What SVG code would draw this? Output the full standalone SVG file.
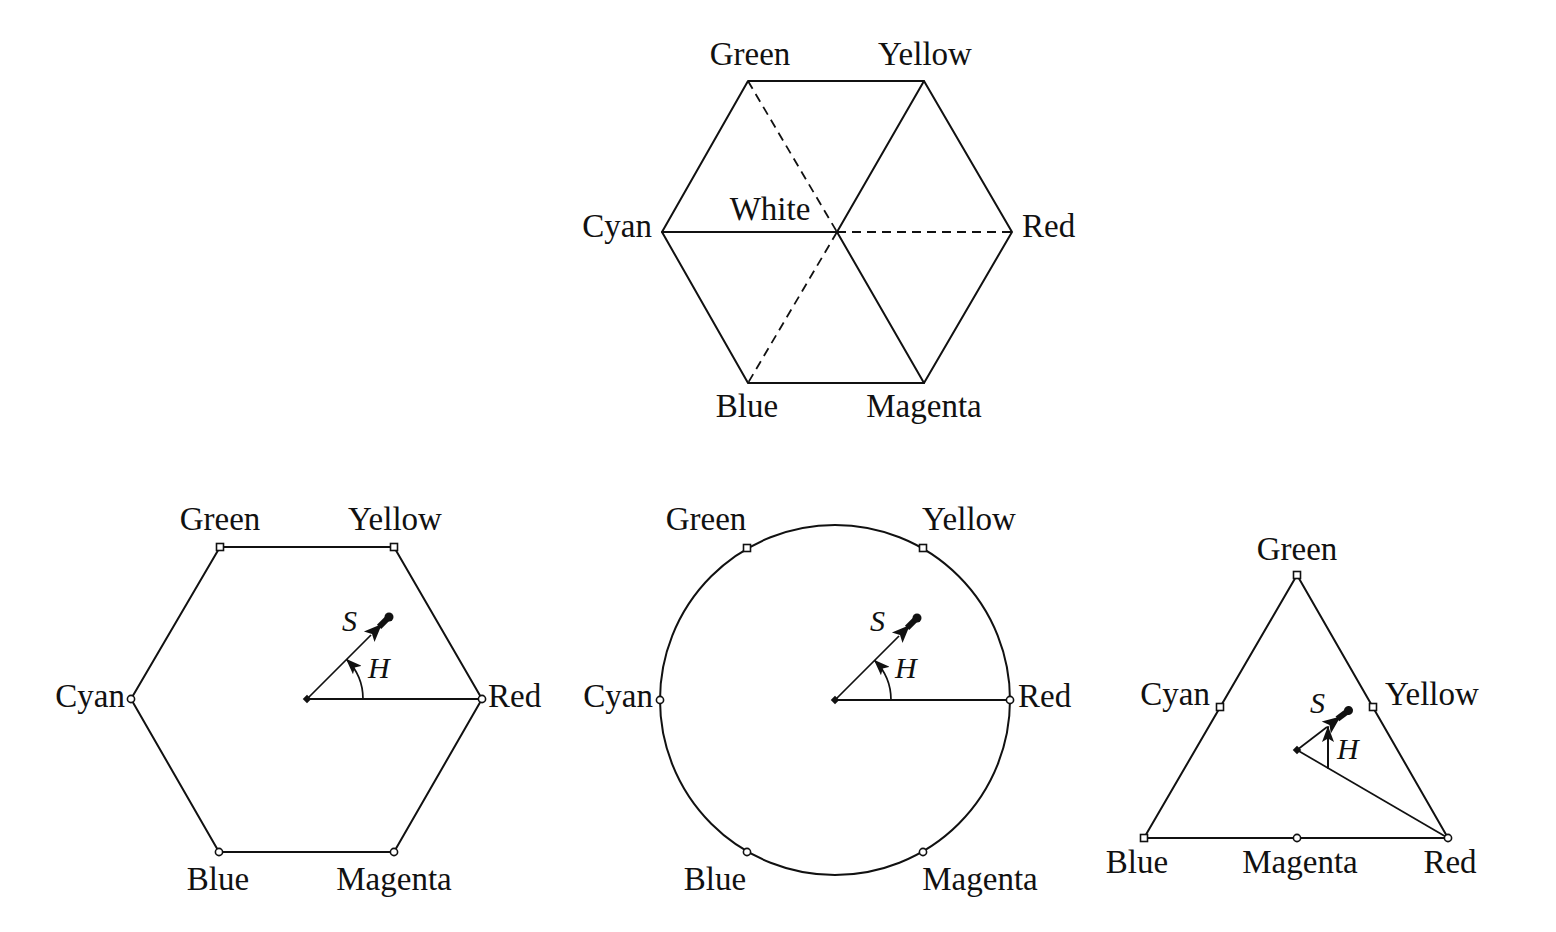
<svg xmlns="http://www.w3.org/2000/svg" width="1556" height="932" viewBox="0 0 1556 932">
<style>
.lbl{font-family:"Liberation Serif","Times New Roman",serif;font-size:33px;fill:#111}
.it{font-family:"Liberation Serif","Times New Roman",serif;font-size:30px;font-style:italic;fill:#111}
.m{text-anchor:middle}.e{text-anchor:end}
.ln{stroke:#111;stroke-width:2;fill:none;stroke-linecap:round;stroke-linejoin:round}
.th{stroke:#111;stroke-width:1.7;fill:none}
.ds{stroke:#111;stroke-width:1.8;fill:none;stroke-dasharray:9 6}
.vx{fill:#fff;stroke:#111;stroke-width:1.6}
</style>
<defs>
<rect id="sq" x="-3.5" y="-3.5" width="7" height="7" class="vx"/>
<circle id="ci" r="3.6" class="vx"/>
<rect id="dot" x="-3" y="-3" width="6" height="6" fill="#111" transform="rotate(45)"/>
<g id="sArr" fill="#111" stroke="none">
<polygon points="0,-7.5 18,0 0,7.5 4,0"/>
<line x1="14" y1="0" x2="27" y2="0" stroke="#111" stroke-width="6"/>
<circle cx="28" cy="0" r="4.5"/>
</g>
<marker id="hA" viewBox="0 0 16 12" refX="15" refY="6" markerWidth="16" markerHeight="12" markerUnits="userSpaceOnUse" orient="auto">
<path d="M0,0 L16,6 L0,12 L3.5,6 z" fill="#111"/>
</marker>
</defs>

<g id="top-hexagon">
<polygon class="ln" points="748,81 924,81 1012,232 924,383 748,383 662,232"/>
<g id="top-connectors">
<line class="ln" x1="662" y1="232" x2="837" y2="232"/>
<line class="ln" x1="924" y1="81" x2="837" y2="232"/>
<line class="ln" x1="837" y1="232" x2="924" y2="383"/>
<line class="ds" x1="748" y1="81" x2="837" y2="232"/>
<line class="ds" x1="837" y1="232" x2="1012" y2="232"/>
<line class="ds" x1="837" y1="232" x2="748" y2="383"/>
</g>
<text class="lbl m" x="750" y="65">Green</text>
<text class="lbl m" x="925" y="65">Yellow</text>
<text class="lbl e" x="652" y="237">Cyan</text>
<text class="lbl" x="1022" y="237">Red</text>
<text class="lbl m" x="770" y="220">White</text>
<text class="lbl m" x="747" y="417">Blue</text>
<text class="lbl m" x="924" y="417">Magenta</text>
</g>

<g id="hexagon">
<polygon class="ln" points="220,547 394,547 482,699 394,852 219,852 131,699"/>
<g id="hex-connectors">
<line class="ln" x1="307" y1="699" x2="482" y2="699"/>
<line class="th" x1="307" y1="699" x2="371" y2="635"/>
<path class="th" d="M363,699 A56,56 0 0 0 346.6,659.4" marker-end="url(#hA)"/>
<use href="#sArr" transform="translate(369.2,636.8) rotate(-45)"/>
</g>
<use href="#sq" x="220" y="547"/><use href="#sq" x="394" y="547"/>
<use href="#ci" x="131" y="699"/><use href="#ci" x="482" y="699"/>
<use href="#ci" x="219" y="852"/><use href="#ci" x="394" y="852"/>
<use href="#dot" transform="translate(307,699)"/>
<text class="lbl m" x="220" y="530">Green</text>
<text class="lbl m" x="395" y="530">Yellow</text>
<text class="lbl e" x="125" y="707">Cyan</text>
<text class="lbl" x="488" y="707">Red</text>
<text class="lbl m" x="218" y="890">Blue</text>
<text class="lbl m" x="394" y="890">Magenta</text>
<text class="it" x="342" y="631">S</text>
<text class="it" x="368" y="678">H</text>
</g>

<g id="circle">
<circle class="ln" cx="835" cy="700" r="175"/>
<g id="circle-connectors">
<line class="ln" x1="835" y1="700" x2="1010" y2="700"/>
<line class="th" x1="835" y1="700" x2="899" y2="636"/>
<path class="th" d="M891,700 A56,56 0 0 0 874.6,660.4" marker-end="url(#hA)"/>
<use href="#sArr" transform="translate(897.2,637.8) rotate(-45)"/>
</g>
<use href="#sq" x="747" y="548"/><use href="#sq" x="923" y="548"/>
<use href="#ci" x="660" y="700"/><use href="#ci" x="1010" y="700"/>
<use href="#ci" x="747" y="852"/><use href="#ci" x="923" y="852"/>
<use href="#dot" transform="translate(835,700)"/>
<text class="lbl m" x="706" y="530">Green</text>
<text class="lbl m" x="969" y="530">Yellow</text>
<text class="lbl e" x="653" y="707">Cyan</text>
<text class="lbl" x="1018" y="707">Red</text>
<text class="lbl m" x="715" y="890">Blue</text>
<text class="lbl m" x="980" y="890">Magenta</text>
<text class="it" x="870" y="631">S</text>
<text class="it" x="895" y="678">H</text>
</g>

<g id="triangle">
<polygon class="ln" points="1297,575 1448,838 1144,838"/>
<g id="triangle-connectors">
<line class="th" x1="1297" y1="750" x2="1448" y2="838"/>
<line class="th" x1="1297" y1="750" x2="1327" y2="727"/>
<line class="ln" x1="1328" y1="768" x2="1328" y2="727" marker-end="url(#hA)"/>
<use href="#sArr" transform="translate(1326.3,727.5) rotate(-37.5)"/>
</g>
<use href="#sq" x="1297" y="575"/>
<use href="#sq" x="1220" y="707"/><use href="#sq" x="1373" y="707"/>
<use href="#sq" x="1144" y="838"/><use href="#ci" x="1297" y="838"/>
<use href="#ci" x="1448" y="838"/>
<use href="#dot" transform="translate(1297,750)"/>
<text class="lbl m" x="1297" y="560">Green</text>
<text class="lbl e" x="1210" y="705">Cyan</text>
<text class="lbl" x="1385" y="705">Yellow</text>
<text class="lbl m" x="1137" y="873">Blue</text>
<text class="lbl m" x="1300" y="873">Magenta</text>
<text class="lbl m" x="1450" y="873">Red</text>
<text class="it" x="1310" y="713">S</text>
<text class="it" x="1337" y="759">H</text>
</g>
</svg>
